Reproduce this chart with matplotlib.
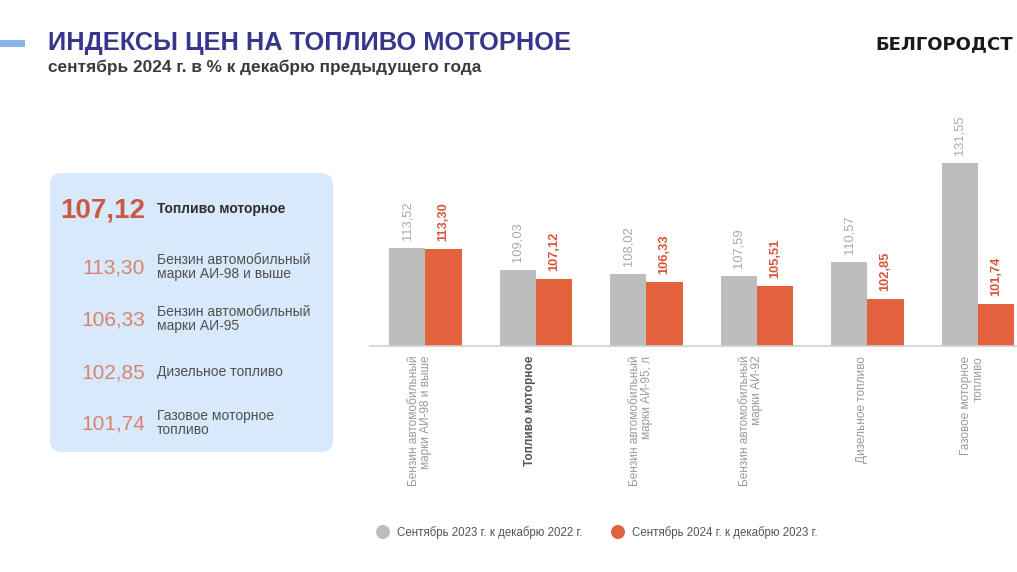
import matplotlib
matplotlib.use("Agg")
import matplotlib.pyplot as plt
from matplotlib.patches import FancyBboxPatch, Rectangle, Circle
import numpy as np

plt.rcParams["font.family"] = ["Liberation Sans", "DejaVu Sans"]

# --- data -------------------------------------------------------------------
categories = [
    "Бензин автомобильный\nмарки АИ-98 и выше",
    "Топливо моторное",
    "Бензин автомобильный\nмарки АИ-95, л",
    "Бензин автомобильный\nмарки АИ-92",
    "Дизельное топливо",
    "Газовое моторное\nтопливо",
]
sep_2023 = [113.52, 109.03, 108.02, 107.59, 110.57, 131.55]
sep_2024 = [113.30, 107.12, 106.33, 105.51, 102.85, 101.74]
series_names = ["Сентябрь 2023 г. к декабрю 2022 г.",
                "Сентябрь 2024 г. к декабрю 2023 г."]

panel_labels = [
    "Топливо моторное",
    "Бензин автомобильный\nмарки АИ-98 и выше",
    "Бензин автомобильный\nмарки АИ-95",
    "Дизельное топливо",
    "Газовое моторное\nтопливо",
]
panel_values = [107.12, 113.30, 106.33, 102.85, 101.74]

title = "ИНДЕКСЫ ЦЕН НА ТОПЛИВО МОТОРНОЕ"
subtitle = "сентябрь 2024 г. в % к декабрю предыдущего года"
brand = "БЕЛГОРОДСТ"  # cut off at the right edge of the slide

GREY = "#bdbdbd"
ORANGE = "#e2623d"


def fmt(v):
    return f"{v:.2f}".replace(".", ",")


W, H = 1017, 572
fig = plt.figure(figsize=(W / 100, H / 100), dpi=100)

# pixel-space overlay for the slide decorations
bg = fig.add_axes([0, 0, 1, 1], zorder=0)
bg.set_xlim(0, W)
bg.set_ylim(H, 0)
bg.axis("off")

bg.add_patch(Rectangle((0, 40), 25, 7, color="#86b4ea", lw=0))
bg.text(48, 43, title, fontsize=18.3, fontweight="bold", color="#37368c",
        va="center", ha="left")
bg.text(48, 67, subtitle, fontsize=12.4, fontweight="bold", color="#3c3c3c",
        va="center", ha="left")
bg.text(875, 44, brand, fontsize=13, fontweight="bold", color="#1a1a1a",
        family="DejaVu Sans", va="center", ha="left")

# left summary panel
bg.add_patch(FancyBboxPatch((50, 173), 283, 279,
                            boxstyle="round,pad=0,rounding_size=12",
                            facecolor="#d8e9fb", edgecolor="none"))
row_y = [210, 268, 320, 373, 424]
for i, (lab, val, y) in enumerate(zip(panel_labels, panel_values, row_y)):
    if i == 0:
        bg.text(145, y, fmt(val), fontsize=20, fontweight="bold",
                color="#c75a44", ha="right", va="center")
        bg.text(157, y - 1, lab, fontsize=10, fontweight="bold",
                color="#2f2f2f", ha="left", va="center")
    else:
        bg.text(145, y, fmt(val), fontsize=15, color="#d6846f",
                ha="right", va="center")
        bg.text(157, y - 1, lab, fontsize=10, color="#505050", ha="left",
                va="center", linespacing=0.92)

# --- bar chart --------------------------------------------------------------
ax = fig.add_axes([370 / W, 1 - 346 / H, 647 / W, 246 / H], zorder=1)
ax.patch.set_alpha(0)
x = np.arange(len(categories))
bw = 0.33
ymin = 92.86
ax.bar(x - bw / 2, np.array(sep_2023) - ymin, bw, bottom=ymin, color=GREY)
ax.bar(x + bw / 2, np.array(sep_2024) - ymin, bw, bottom=ymin, color=ORANGE)
ax.set_xlim(-0.502, 5.353)
ax.set_ylim(ymin, 144.9)
for s in ["top", "right", "left"]:
    ax.spines[s].set_visible(False)
ax.spines["bottom"].set_color("#cfcfcf")
ax.spines["bottom"].set_linewidth(1.2)
ax.set_xticks([])
ax.set_yticks([])

for xi, a, b in zip(x, sep_2023, sep_2024):
    ax.text(xi - bw / 2, a + 1.7, fmt(a), rotation=90, ha="center",
            va="bottom", fontsize=9.3, color="#a9a9a9", clip_on=False)
    ax.text(xi + bw / 2, b + 1.7, fmt(b), rotation=90, ha="center",
            va="bottom", fontsize=9.3, fontweight="bold", color="#d9553a",
            clip_on=False)

for i, (xi, lab) in enumerate(zip(x, categories)):
    bold = lab == "Топливо моторное"
    ax.text(xi - 0.05, -0.04, lab, rotation=90, ha="center", va="top",
            multialignment="right", fontsize=8.5, linespacing=1.0,
            fontweight="bold" if bold else "normal",
            color="#555555" if bold else "#9a9a9a",
            transform=ax.get_xaxis_transform(), clip_on=False)

# legend
for cx, col, name in zip([383, 618], [GREY, ORANGE], series_names):
    bg.add_patch(Circle((cx, 532), 7, color=col, lw=0))
    bg.text(cx + 14, 533, name, fontsize=8.3, color="#555555",
            ha="left", va="center")

fig.savefig("out.png", dpi=100)
